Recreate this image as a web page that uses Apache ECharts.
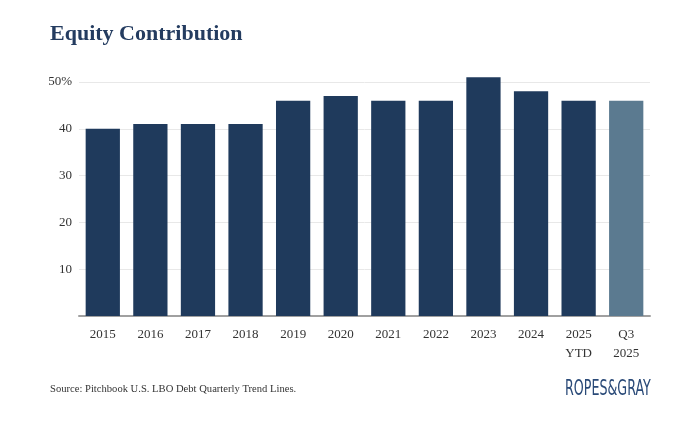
<!DOCTYPE html>
<html><head><meta charset="utf-8">
<script src="https://cdn.jsdelivr.net/npm/echarts@6/dist/echarts.min.js"></script>
<style>html,body{margin:0;padding:0;background:#fff}#c{width:683px;height:441px}</style>
</head><body><div id="c"></div>
<script>
const categories = ['2015','2016','2017','2018','2019','2020','2021','2022','2023','2024','2025\nYTD','Q3\n2025'];
const values = [40,41,41,41,46,47,46,46,51,48,46,46];
const yTicks = {50:'50%',40:'40',30:'30',20:'20',10:'10',0:''};
const dark = '#1f3a5c', light = '#5b7a90';
const serif = '"Liberation Serif", "DejaVu Serif", serif';
const chart = echarts.init(document.getElementById('c'));
chart.setOption({
  animation:false,
  title:{text:'Equity Contribution', left:45, top:18, textStyle:{fontFamily:serif, fontSize:22, fontWeight:'bold', color:'#243c60'}},
  grid:{left:79, right:33, top:82, bottom:125},
  xAxis:{type:'category', data:categories,
    axisLine:{lineStyle:{color:'#a0a0a0', width:2}}, axisTick:{show:false},
    axisLabel:{fontFamily:serif, fontSize:13, color:'#333', margin:9, lineHeight:19}},
  yAxis:{type:'value', min:0, max:50, interval:10,
    axisLine:{show:false}, axisTick:{show:false},
    splitLine:{lineStyle:{color:'#e8e8e8', width:1}},
    axisLabel:{fontFamily:serif, fontSize:13, color:'#333', margin:7, formatter:v=>yTicks[v] ?? ''}},
  series:[{type:'bar', clip:false, barCategoryGap:'28%',
    data: values.map((v,i)=>({value:v, itemStyle:{color: i===values.length-1 ? light : dark}}))}],
  graphic:[
    {type:'text', left:50, top:384, style:{text:'Source: Pitchbook U.S. LBO Debt Quarterly Trend Lines.', font:'10.6px '+serif, fill:'#333'}},
    {type:'text', x:565, y:378, scaleX:0.64, style:{text:'ROPES&GRAY', font:'22px "DejaVu Sans Condensed", "DejaVu Sans", sans-serif', fill:'#2a4a78'}}
  ]
});
</script></body></html>
